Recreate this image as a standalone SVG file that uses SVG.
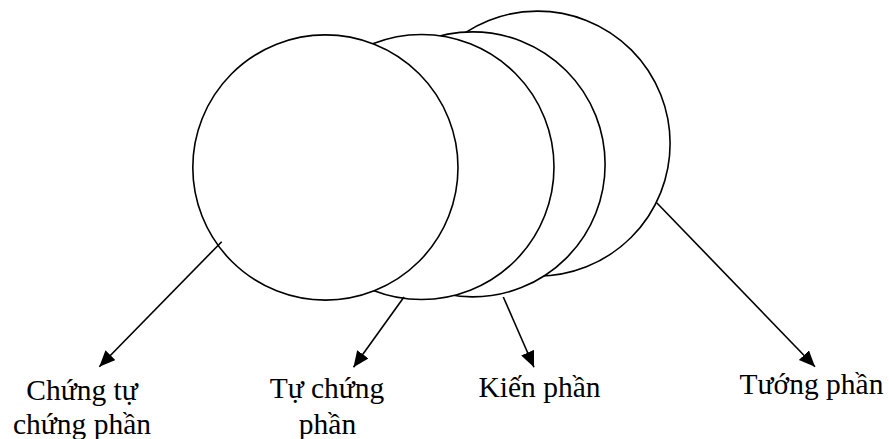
<svg xmlns="http://www.w3.org/2000/svg" width="889" height="439" viewBox="0 0 889 439">
<style>
.c{fill:#fff;stroke:#000;stroke-width:1.6}
.a{fill:none;stroke:#000;stroke-width:1.6;marker-end:url(#ah)}
.t{font-family:"Liberation Serif","Times New Roman",serif;font-size:29.5px;fill:#000;text-anchor:middle}
</style>
<defs>
<marker id="ah" markerUnits="userSpaceOnUse" markerWidth="18" markerHeight="16" refX="16" refY="7" orient="auto">
<path d="M0,0 L16,7 L0,14 Z" fill="#000"/>
</marker>
</defs>
<g id="tuong-phan"><circle class="c" cx="537.6" cy="143.6" r="132.5"/></g>
<g id="kien-phan"><circle class="c" cx="472.6" cy="164.4" r="132.5"/></g>
<g id="tu-chung-phan"><circle class="c" cx="421.5" cy="167" r="132.5"/></g>
<g id="chung-tu-chung-phan"><circle class="c" cx="325.4" cy="167.5" r="132.6"/></g>
<g id="connectors">
<line class="a" x1="221.7" y1="241.7" x2="99.3" y2="366.7"/>
<line class="a" x1="404" y1="297" x2="353.5" y2="367.3"/>
<line class="a" x1="503.3" y1="297" x2="534" y2="367.3"/>
<line class="a" x1="656.7" y1="202.7" x2="815" y2="366.7"/>
</g>
<g id="labels">
<text class="t" x="82" y="400">Chứng tự</text>
<text class="t" x="82" y="434">chứng phần</text>
<text class="t" x="327" y="398">Tự chứng</text>
<text class="t" x="327.5" y="434">phần</text>
<text class="t" x="539.5" y="397">Kiến phần</text>
<text class="t" x="811.5" y="394">Tướng phần</text>
</g>
</svg>
